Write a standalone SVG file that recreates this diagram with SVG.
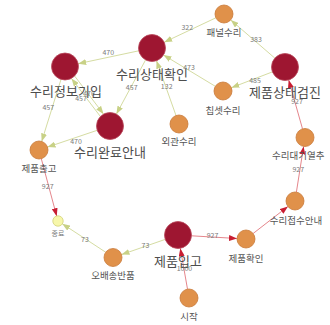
<svg xmlns="http://www.w3.org/2000/svg" width="330" height="325" viewBox="0 0 330 325">
<style>
.e{fill:none;stroke-width:1}
.g{stroke:#d5dca2}
.r{stroke:#e5868c}
.big{fill:#9e1631;stroke:#b9475a;stroke-width:0.8}
.org{fill:#e0914a;stroke:#c97a38;stroke-width:0.8}
.yel{fill:#f7f7aa;stroke:#d2d27a;stroke-width:0.8}
text{font-family:"Noto Sans CJK KR","Noto Sans",sans-serif;text-anchor:middle}
.lb{font-size:13px;fill:#4d4d4d}
.ls{font-size:9.5px;fill:#555}
.el{font-size:7px;fill:#7a7a7a}
</style>
<defs>
<marker id="ag" markerUnits="userSpaceOnUse" markerWidth="8" markerHeight="6" refX="8" refY="3" orient="auto"><path d="M0,0 L8,3 L0,6 z" fill="#c8d186"/></marker>
<marker id="ar" markerUnits="userSpaceOnUse" markerWidth="8" markerHeight="6" refX="8" refY="3" orient="auto"><path d="M0,0 L8,3 L0,6 z" fill="#c81e32"/></marker>
</defs>
<g id="connectors">
<line class="e r" x1="187.5" y1="289.1" x2="180.3" y2="248.3" marker-end="url(#ar)"/>
<line class="e r" x1="191.5" y1="235.8" x2="237" y2="238.5" marker-end="url(#ar)"/>
<line class="e r" x1="253.1" y1="233.5" x2="287.9" y2="206.5" marker-end="url(#ar)"/>
<line class="e r" x1="296.4" y1="192.1" x2="303.6" y2="146.4" marker-end="url(#ar)"/>
<line class="e r" x1="302.5" y1="128.8" x2="288.7" y2="80" marker-end="url(#ar)"/>
<line class="e g" x1="274.8" y1="58.1" x2="230.8" y2="20" marker-end="url(#ag)"/>
<line class="e g" x1="272.4" y1="71.9" x2="231.4" y2="87.7" marker-end="url(#ag)"/>
<line class="e g" x1="215.9" y1="17.8" x2="164.2" y2="42.2" marker-end="url(#ag)"/>
<line class="e g" x1="215.3" y1="86.3" x2="163.5" y2="55" marker-end="url(#ag)"/>
<line class="e g" x1="176" y1="115.5" x2="156.5" y2="60.7" marker-end="url(#ag)"/>
<line class="e g" x1="138.8" y1="50.8" x2="78.2" y2="63.7" marker-end="url(#ag)"/>
<line class="e g" x1="145.6" y1="59.9" x2="116.4" y2="114.1" marker-end="url(#ag)"/>
<line class="e g" x1="74.7" y1="76.1" x2="103.5" y2="114" marker-end="url(#ag)"/>
<line class="e g" x1="100.3" y1="116.4" x2="71.5" y2="78.5" marker-end="url(#ag)"/>
<line class="e g" x1="61" y1="79.4" x2="41.7" y2="141.4" marker-end="url(#ag)"/>
<line class="e g" x1="97.2" y1="130.3" x2="47.5" y2="147.1" marker-end="url(#ag)"/>
<line class="e r" x1="41.3" y1="158.7" x2="56.7" y2="216.2" marker-end="url(#ar)"/>
<line class="e g" x1="105.5" y1="252.1" x2="62.2" y2="223.7" marker-end="url(#ag)"/>
<line class="e g" x1="165.2" y1="239.4" x2="121.5" y2="254.6" marker-end="url(#ag)"/>
</g>
<g id="n-suri-sangtae"><circle class="big" cx="152" cy="48" r="13.5"/><text class="lb" x="152" y="79">수리상태확인</text></g>
<g id="n-suri-jeongbo"><circle class="big" cx="65" cy="66.5" r="13.5"/><text class="lb" x="66" y="96">수리정보기입</text></g>
<g id="n-suri-wanryo"><circle class="big" cx="110" cy="126" r="13.5"/><text class="lb" x="110" y="157">수리완료안내</text></g>
<g id="n-jepum-geomjin"><circle class="big" cx="285" cy="67" r="13.5"/><text class="lb" x="285" y="96.5">제품상태검진</text></g>
<g id="n-jepum-ipgo"><circle class="big" cx="178" cy="235" r="13.5"/><text class="lb" x="178" y="265.5">제품입고</text></g>
<g id="n-panel"><circle class="org" cx="224" cy="14" r="9"/><text class="ls" x="224" y="35.5">패널수리</text></g>
<g id="n-chipset"><circle class="org" cx="223" cy="91" r="9"/><text class="ls" x="223" y="113.5">칩셋수리</text></g>
<g id="n-oegwan"><circle class="org" cx="179" cy="124" r="9"/><text class="ls" x="179" y="144.7">외관수리</text></g>
<g id="n-chulgo"><circle class="org" cx="39" cy="150" r="9"/><text class="ls" x="39" y="171.8">제품출고</text></g>
<g id="n-daegi"><circle class="org" cx="305" cy="137.5" r="9"/><text class="ls" x="272" y="159.3" style="text-anchor:start">수리대기열추</text></g>
<g id="n-jeopsu"><circle class="org" cx="295" cy="201" r="9"/><text class="ls" x="296" y="223.5">수리접수안내</text></g>
<g id="n-hwagin"><circle class="org" cx="246" cy="239" r="9"/><text class="ls" x="246" y="261.5">제품확인</text></g>
<g id="n-obaesong"><circle class="org" cx="113" cy="257.5" r="9"/><text class="ls" x="113" y="279.3">오배송반품</text></g>
<g id="n-start"><circle class="org" cx="189" cy="298" r="9"/><text class="ls" x="189" y="319.7">시작</text></g>
<g id="n-end"><circle class="yel" cx="58" cy="221" r="5.2"/><text class="el" x="58" y="235.5">종료</text></g>
<g id="edge-labels">
<text class="el" x="184.5" y="270.8">1000</text>
<text class="el" x="212.5" y="238.2">927</text>
<text class="el" x="298.3" y="171.5">927</text>
<text class="el" x="297" y="103.5">927</text>
<text class="el" x="256" y="41.5">383</text>
<text class="el" x="255" y="82.5">485</text>
<text class="el" x="187.3" y="29.8">322</text>
<text class="el" x="189" y="70">473</text>
<text class="el" x="166.7" y="89.2">132</text>
<text class="el" x="108.3" y="54.8">470</text>
<text class="el" x="131.7" y="89.8">457</text>
<text class="el" x="89" y="95.5">470</text>
<text class="el" x="81" y="100.5">457</text>
<text class="el" x="48.3" y="109.8">457</text>
<text class="el" x="76" y="144.2">470</text>
<text class="el" x="47.7" y="188.5">927</text>
<text class="el" x="85" y="241.5">73</text>
<text class="el" x="145.5" y="247.5">73</text>
</g>
</svg>
